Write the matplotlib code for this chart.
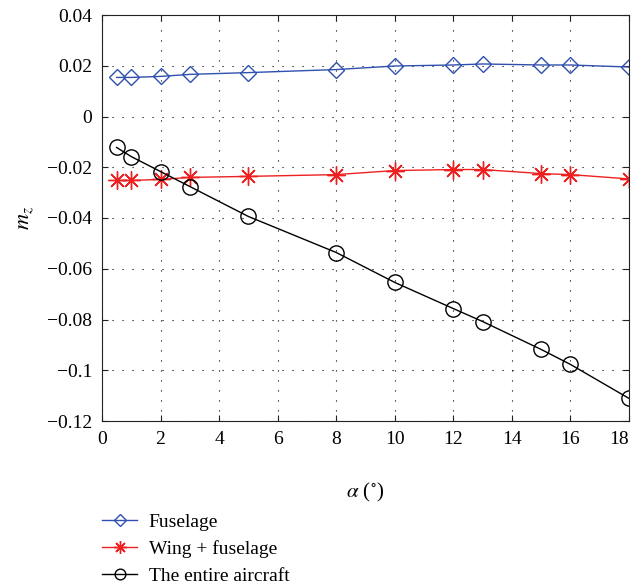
import numpy as np
import matplotlib
matplotlib.use("Agg")
import matplotlib.pyplot as plt

plt.rcParams['font.family'] = ['Liberation Serif', 'DejaVu Serif']
plt.rcParams['mathtext.fontset'] = 'stix'

# angle of attack (deg)
alpha = [0.5, 1, 2, 3, 5, 8, 10, 12, 13, 15, 16, 18]
fuselage = [0.0154, 0.0154, 0.0158, 0.0166, 0.0173, 0.0185, 0.0199, 0.0203, 0.0207, 0.0203, 0.0203, 0.0195]
wing_fuselage = [-0.0252, -0.0252, -0.0248, -0.0240, -0.0236, -0.0229, -0.0213, -0.0209, -0.0209, -0.0225, -0.0229, -0.0246]
aircraft = [-0.0122, -0.0158, -0.0217, -0.0276, -0.0394, -0.0536, -0.0654, -0.0757, -0.0808, -0.0918, -0.0977, -0.1111]

yticks = [0.04, 0.02, 0, -0.02, -0.04, -0.06, -0.08, -0.1, -0.12]
ylabels = ['0.04', '0.02', '0', '\u22120.02', '\u22120.04', '\u22120.06', '\u22120.08', '\u22120.1', '\u22120.12']

fig = plt.figure(figsize=(6.31, 5.84), dpi=100)
ax = fig.add_axes([102 / 631, 1 - 421 / 584, 527 / 631, 406 / 584])

ax.plot(alpha, fuselage, color='#3050b0', lw=1, marker='D', ms=8.5,
        mfc='none', mec='#3050b0', mew=1, label='Fuselage')
ax.plot(alpha, wing_fuselage, color='#ee2020', lw=1, marker=(8, 2, 0), ms=13,
        mec='#ee2020', mew=1, label='Wing + fuselage')
ax.plot(alpha, aircraft, color='black', lw=1, marker='o', ms=11,
        mfc='none', mec='black', mew=1, label='The entire aircraft')

ax.set_xlim(0, 18)
ax.set_ylim(-0.12, 0.04)
ax.set_xticks(range(0, 19, 2))
ax.set_yticks(yticks)
ax.set_yticklabels(ylabels)
ax.tick_params(direction='in', top=True, right=True, labelsize=14, length=4,
               color='#222222', pad=7)
# keep the last x label inside the picture
ax.get_xticklabels()[-1].set_horizontalalignment('right')
ax.grid(True, linestyle=(0, (1, 8)), color='black', lw=0.8)
for s in ax.spines.values():
    s.set_color('#222222')

ax.set_xlabel(r'$\alpha$ ($^{\circ}$)', fontsize=15, labelpad=24)
ax.set_ylabel(r'$m_z$', fontsize=16, labelpad=8)

fig.legend(loc='upper left', bbox_to_anchor=(102 / 631, 1 - 513 / 584), frameon=False,
           fontsize=14, handlelength=1.8, labelspacing=0.48, handletextpad=0.6,
           markerscale=0.7, borderpad=0, borderaxespad=0)

fig.savefig('out.png', dpi=100)
